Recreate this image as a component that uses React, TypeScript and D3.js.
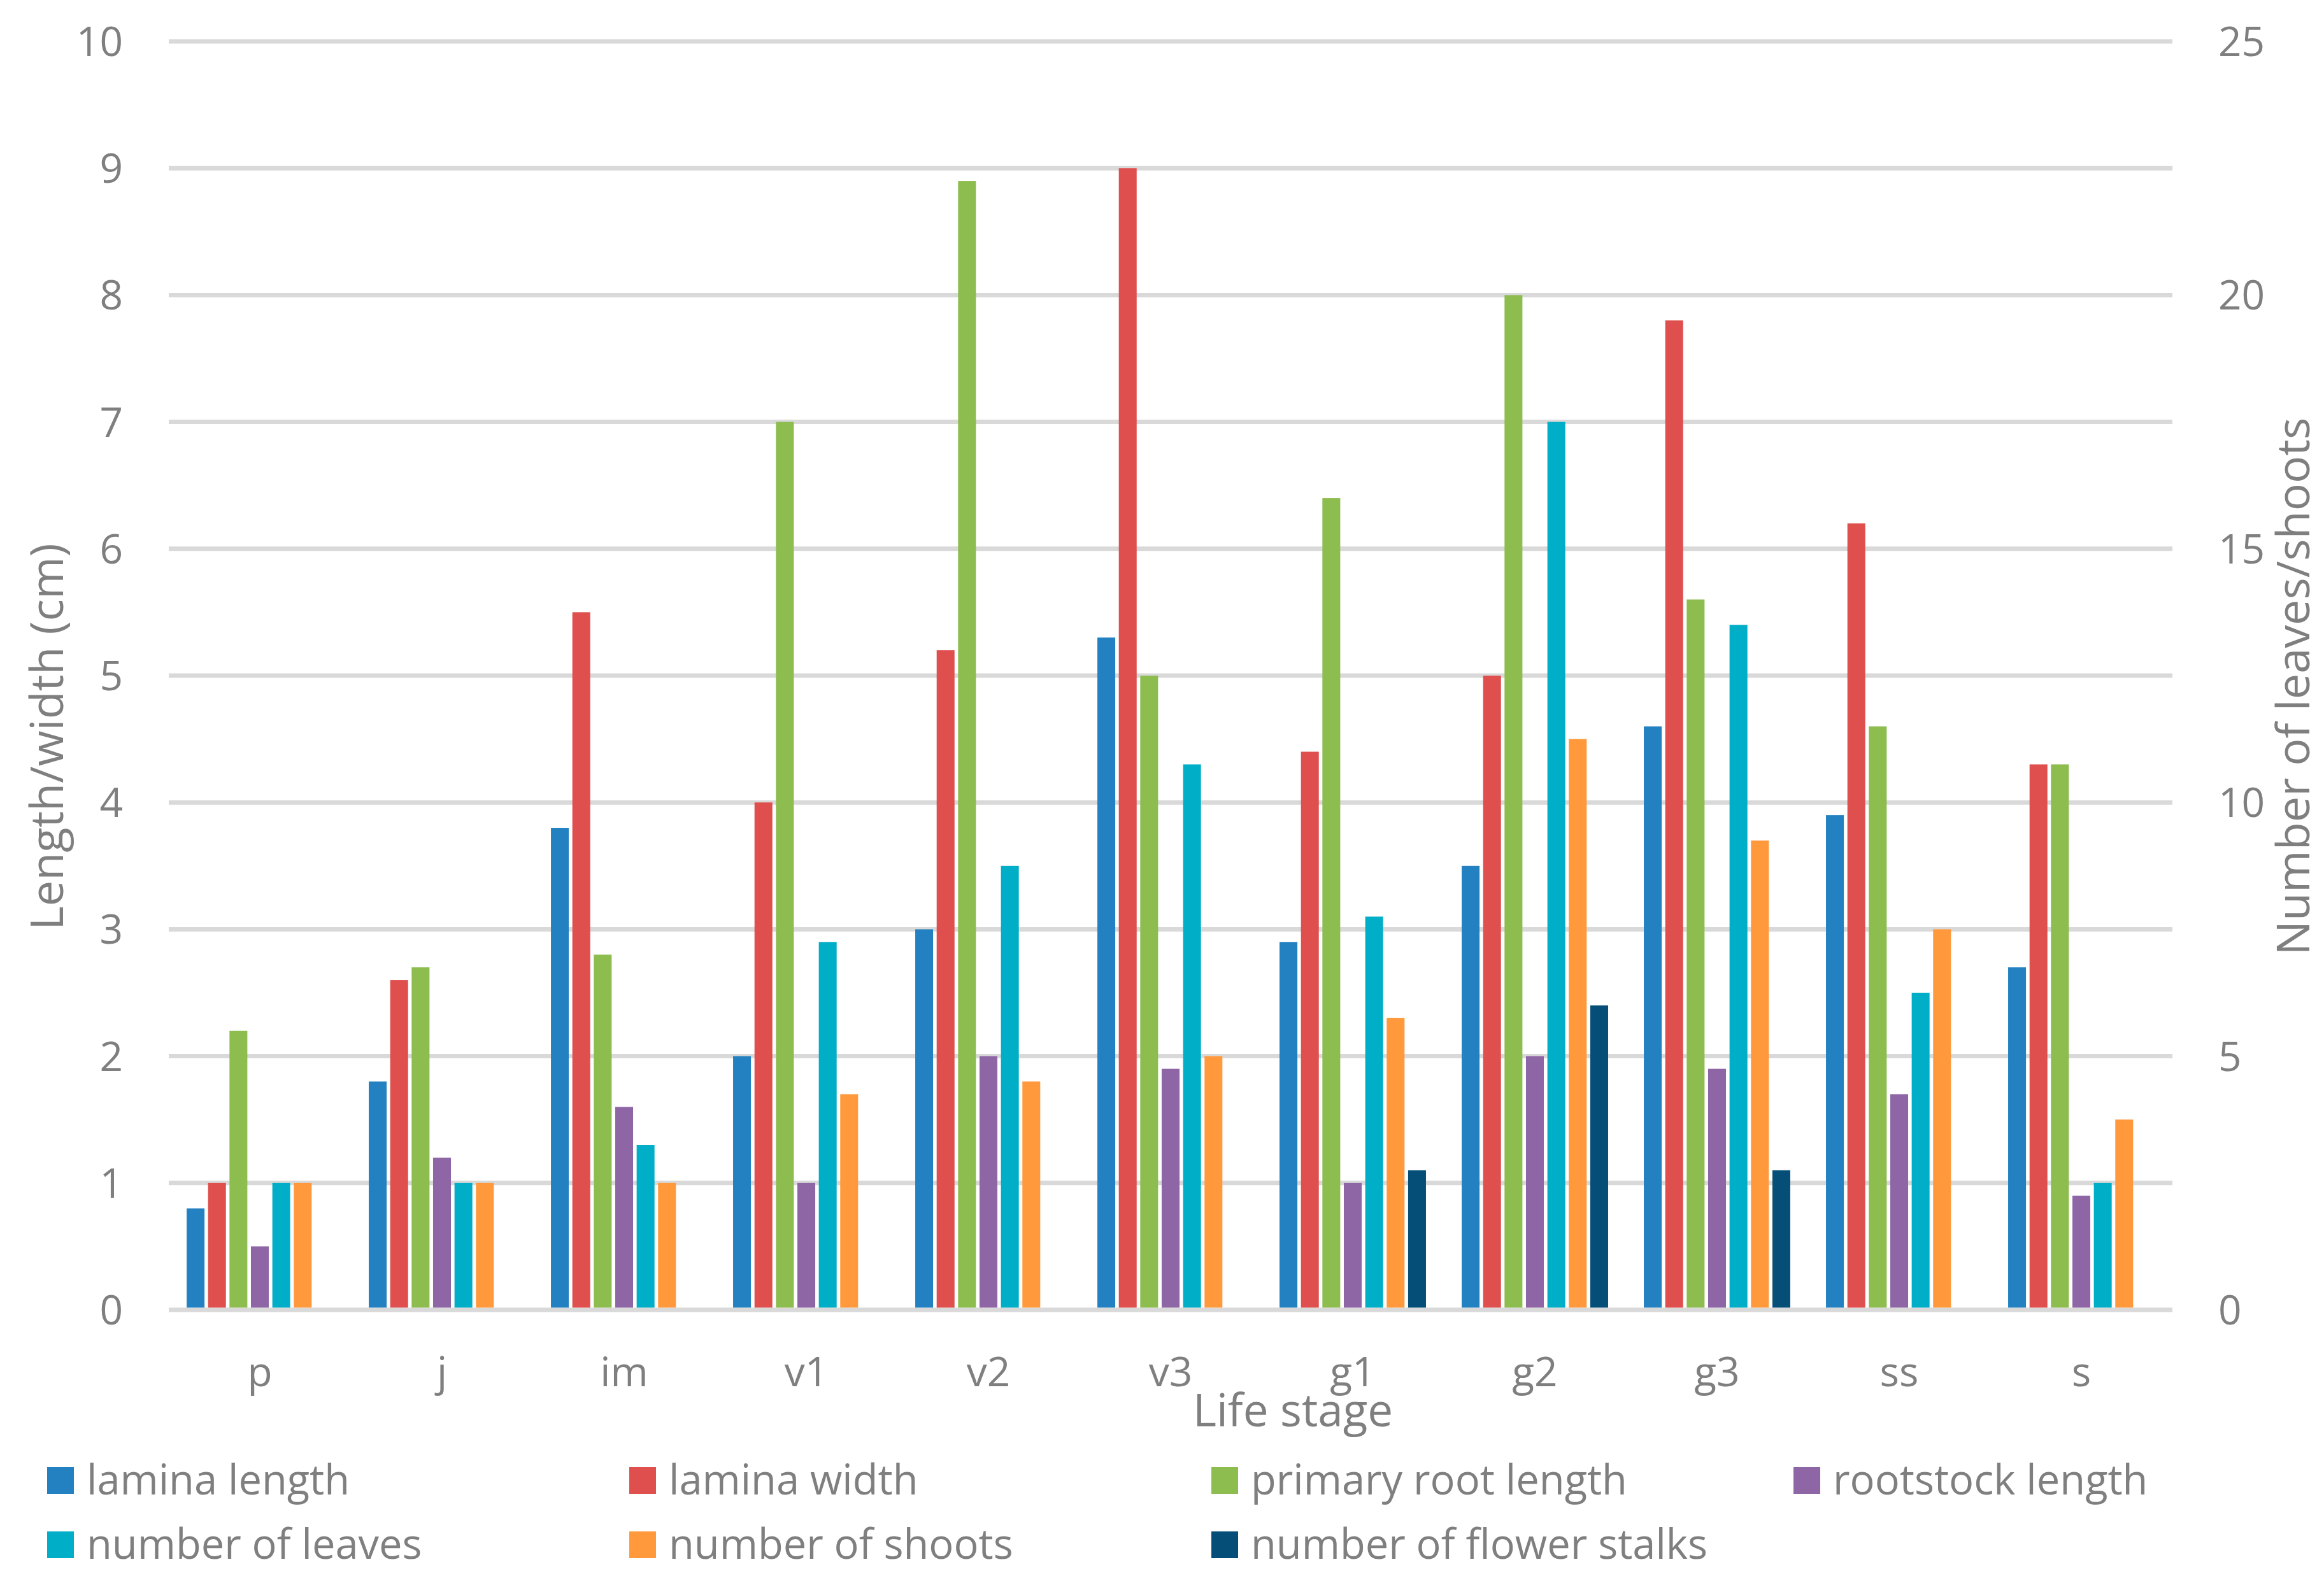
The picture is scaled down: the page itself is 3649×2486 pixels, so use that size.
import React, { useEffect } from "react";
import * as d3 from "d3";

const categories = ["p", "j", "im", "v1", "v2", "v3", "g1", "g2", "g3", "ss", "s"];

// length series (left axis, cm)
const laminaLength = [0.8, 1.8, 3.8, 2.0, 3.0, 5.3, 2.9, 3.5, 4.6, 3.9, 2.7];
const laminaWidth = [1.0, 2.6, 5.5, 4.0, 5.2, 9.0, 4.4, 5.0, 7.8, 6.2, 4.3];
const primaryRootLength = [2.2, 2.7, 2.8, 7.0, 8.9, 5.0, 6.4, 8.0, 5.6, 4.6, 4.3];
const rootstockLength = [0.5, 1.2, 1.6, 1.0, 2.0, 1.9, 1.0, 2.0, 1.9, 1.7, 0.9];
// count series (right axis)
const numberOfLeaves = [2.5, 2.5, 3.25, 7.25, 8.75, 10.75, 7.75, 17.5, 13.5, 6.25, 2.5];
const numberOfShoots = [2.5, 2.5, 2.5, 4.25, 4.5, 5.0, 5.75, 11.25, 9.25, 7.5, 3.75];
const numberOfFlowerStalks: (number | null)[] = [null, null, null, null, null, null, 2.75, 6.0, 2.75, null, null];

const leftTicks = [0, 1, 2, 3, 4, 5, 6, 7, 8, 9, 10];
const rightTicks = [0, 5, 10, 15, 20, 25];

const seriesNames = [
  "lamina length",
  "lamina width",
  "primary root length",
  "rootstock length",
  "number of leaves",
  "number of shoots",
  "number of flower stalks",
];
const seriesColors = ["#2481C1", "#DF4F4E", "#8DBC4F", "#8E65A5", "#00AEC7", "#FF993C", "#044E78"];
const seriesAxis = ["left", "left", "left", "left", "right", "right", "right"];
const seriesValues: (number | null)[][] = [
  laminaLength,
  laminaWidth,
  primaryRootLength,
  rootstockLength,
  numberOfLeaves,
  numberOfShoots,
  numberOfFlowerStalks,
];

const W = 3649;
const H = 2486;
const plotLeft = 265;
const plotRight = 3411;
const plotTop = 65;
const plotBottom = 2057;
const textColor = "#7F7F7F";
const gridColor = "#D9D9D9";
const font = "'Open Sans', 'Noto Sans', sans-serif";

export default function App() {
  useEffect(() => {
    document.body.style.margin = "0";
  }, []);

  const x0 = d3.scaleBand<string>().domain(categories).range([plotLeft, plotRight]).padding(0);
  const x1 = d3
    .scaleBand<string>()
    .domain(seriesNames)
    .range([0, x0.bandwidth()])
    .paddingInner(1 / 6)
    .paddingOuter(5 / 6);
  const yL = d3.scaleLinear().domain([0, 10]).range([plotBottom, plotTop]);
  const yR = d3.scaleLinear().domain([0, 25]).range([plotBottom, plotTop]);

  const legendCols = [74, 988, 1902, 2816];
  const legendRows = [2304, 2405];

  return (
    <svg width={W} height={H} style={{ display: "block", background: "#fff" }} fontFamily={font}>
      <rect x={0} y={0} width={W} height={H} fill="#fff" />
      {leftTicks.map((t) => (
        <line key={"g" + t} x1={plotLeft} x2={plotRight} y1={yL(t)} y2={yL(t)} stroke={gridColor} strokeWidth={7} />
      ))}
      {seriesValues.map((vals, si) =>
        vals.map((v, ci) => {
          if (v === null || v === undefined) return null;
          const y = seriesAxis[si] === "left" ? yL : yR;
          const xPos = (x0(categories[ci]) as number) + (x1(seriesNames[si]) as number);
          return (
            <rect
              key={si + "-" + ci}
              x={xPos}
              y={y(v)}
              width={x1.bandwidth()}
              height={plotBottom - 3.5 - y(v)}
              fill={seriesColors[si]}
            />
          );
        })
      )}
      {leftTicks.map((t) => (
        <text key={"l" + t} x={193} y={yL(t)} dy="0.36em" textAnchor="end" fontSize={64} fill={textColor}>
          {t}
        </text>
      ))}
      {rightTicks.map((t) => (
        <text key={"r" + t} x={3483} y={yR(t)} dy="0.36em" textAnchor="start" fontSize={64} fill={textColor}>
          {t}
        </text>
      ))}
      {categories.map((c) => (
        <text
          key={"c" + c}
          x={(x0(c) as number) + x0.bandwidth() / 2}
          y={2177}
          textAnchor="middle"
          fontSize={64}
          fill={textColor}
        >
          {c}
        </text>
      ))}
      <text x={2030} y={2240} textAnchor="middle" fontSize={71} fill={textColor}>
        Life stage
      </text>
      <text
        transform={`translate(99,1157) rotate(-90)`}
        textAnchor="middle"
        fontSize={72}
        fill={textColor}
      >
        Length/width (cm)
      </text>
      <text
        transform={`translate(3626,1078) rotate(-90)`}
        textAnchor="middle"
        fontSize={72}
        fill={textColor}
      >
        Number of leaves/shoots
      </text>
      {seriesNames.map((name, i) => {
        const col = i < 4 ? i : i - 4;
        const row = i < 4 ? 0 : 1;
        const lx = legendCols[col];
        const ly = legendRows[row];
        return (
          <g key={"lg" + i}>
            <rect x={lx} y={ly} width={42} height={42} fill={seriesColors[i]} />
            <text x={lx + 62} y={ly + 43} fontSize={65} fill={textColor}>
              {name}
            </text>
          </g>
        );
      })}
    </svg>
  );
}
